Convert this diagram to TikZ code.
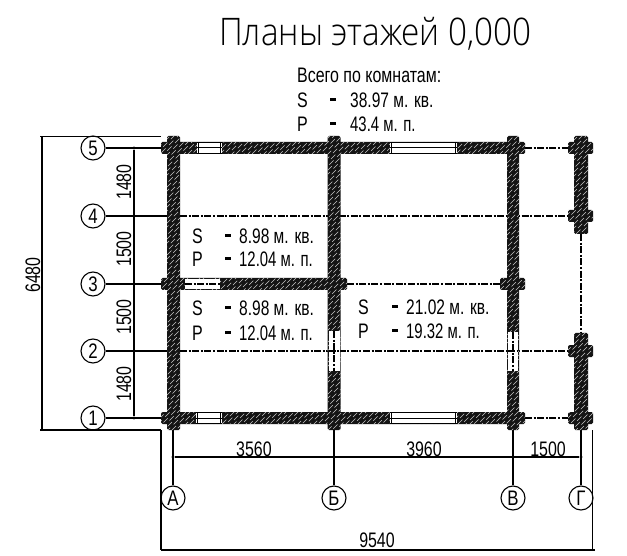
\documentclass[tikz,border=0pt]{standalone}
\usepackage{fontspec}
\setmainfont{Liberation Sans}
\newfontfamily\thinf{Open Sans Light}
\newcommand{\nar}[1]{\scalebox{.76}[1]{#1}}
\newcommand{\narp}[1]{\scalebox{.71}[1]{#1}}
\newcommand{\wallrects}{
  (161,142) rectangle (525,154)
  (161,412) rectangle (525,424)
  (161,278) rectangle (347,290)
  (500,278) rectangle (525,290)
  (167,136) rectangle (180,430)
  (327.5,136) rectangle (340.5,430)
  (507,136) rectangle (519,430)
  (574,136) rectangle (588,234)
  (568,142) rectangle (593,154)
  (568,210) rectangle (593,222)
  (574,333) rectangle (588,430)
  (568,345) rectangle (593,357)
  (568,412) rectangle (593,424)
}
\tikzset{
  dimline/.style={black,line width=1.1pt},
  extline/.style={black,line width=1.3pt},
  axisline/.style={black,line width=1.15pt,dash pattern=on 7pt off 1.6pt on 2pt off 1.6pt},
  bubble/.style={circle,draw=black,line width=1.1pt,minimum size=24pt,inner sep=0pt,fill=white,font=\fontsize{21}{21}\selectfont},
  lbl/.style={inner sep=0pt,anchor=west,font=\fontsize{21}{21}\selectfont},
  dimlbl/.style={inner sep=0pt,font=\fontsize{21}{21}\selectfont},
  dot/.style={circle,fill=black,inner sep=0pt,minimum size=3.4pt},
  winline/.style={black,line width=1pt},
}
\begin{document}
\begin{tikzpicture}[x=1pt,y=-1pt]
\useasboundingbox (0,0) rectangle (627,556);
\fill[white] (0,0) rectangle (627,556);
% grid references
\coordinate (a5) at (161,148); \coordinate (a4) at (167,216); \coordinate (a3) at (161,284);
\coordinate (a2) at (167,351); \coordinate (a1) at (161,418);
\coordinate (bA) at (173,430); \coordinate (bB) at (334,430); \coordinate (bV) at (513,430); \coordinate (bG) at (581,430);
% axis bubbles
\node[bubble] (r5) at (93,148) {\scalebox{.8}[1]{5}};
\node[bubble] (r4) at (93,216) {\scalebox{.8}[1]{4}};
\node[bubble] (r3) at (93,284) {\scalebox{.8}[1]{3}};
\node[bubble] (r2) at (93,351) {\scalebox{.8}[1]{2}};
\node[bubble] (r1) at (93,418) {\scalebox{.8}[1]{1}};
\node[bubble] (cA) at (173,498) {\scalebox{.8}[1]{А}};
\node[bubble] (cB) at (334,498) {\scalebox{.8}[1]{Б}};
\node[bubble] (cV) at (513,498) {\scalebox{.8}[1]{В}};
\node[bubble] (cG) at (581,498) {\scalebox{.8}[1]{Г}};
\foreach \n in {5,4,3,2,1} \draw[dimline] (r\n) -- (a\n);
\draw[dimline] (bA) -- (cA); \draw[dimline] (bB) -- (cB);
\draw[dimline] (bV) -- (cV); \draw[dimline] (bG) -- (cG);
% centre lines
\coordinate (ax4a) at (180,216); \coordinate (ax4b) at (568,216);
\coordinate (ax2a) at (180,351); \coordinate (ax2b) at (568,351);
\coordinate (ax3a) at (347,284); \coordinate (ax3b) at (500,284);
\coordinate (ax5a) at (525,148); \coordinate (ax5b) at (568,148);
\coordinate (ax1a) at (525,418); \coordinate (ax1b) at (568,418);
\coordinate (axGa) at (581,234); \coordinate (axGb) at (581,333);
\foreach \u/\v in {ax4a/ax4b,ax2a/ax2b,ax3a/ax3b,ax5a/ax5b,ax1a/ax1b,axGa/axGb}
  \draw[axisline] (\u) -- (\v);
% walls
\fill[black!92,rounded corners=1.5pt] \wallrects;
\begin{scope}
  \clip \wallrects;
  \foreach \d in {150,154,...,1100}
    \draw[gray!45,line width=.6pt,dash pattern=on 6pt off 5pt,dash phase=\d*.7] (\d,120) -- (\d-330,450);
\end{scope}
% horizontal plain windows
\foreach \xa/\xb/\yc in {197/222/148,196/222/418,390/457/148,390/457/418}{
  \fill[white] (\xa,\yc-5) rectangle (\xb,\yc+5);
  \draw[winline] (\xa,\yc-5.3) -- (\xb,\yc-5.3);
  \draw[winline] (\xa,\yc) -- (\xb,\yc);
  \draw[winline] (\xa,\yc+5.3) -- (\xb,\yc+5.3);
  \draw[winline] (\xa+1.5,\yc-5.5) -- (\xa+1.5,\yc+5.5);
  \draw[winline] (\xb-1.5,\yc-5.5) -- (\xb-1.5,\yc+5.5);
}
% windows on centre lines
\fill[white] (185,279) rectangle (220,289);
\draw[axisline] (185,284) -- (220,284);
\fill[white] (328.5,331) rectangle (339.5,371);
\draw[axisline] (334,331) -- (334,371);
\fill[white] (508,332) rectangle (518,371);
\draw[axisline] (513,332) -- (513,371);
\draw[axisline] (328.5,351) -- (339.5,351);
\draw[axisline] (508,351) -- (518,351);
% dimension lines
\coordinate (t5) at (134,148); \coordinate (t4) at (134,216); \coordinate (t3) at (134,284);
\coordinate (t2) at (134,351); \coordinate (t1) at (134,418);
\node[dot] (d5) at (t5) {}; \node[dot] (d4) at (t4) {}; \node[dot] (d3) at (t3) {};
\node[dot] (d2) at (t2) {}; \node[dot] (d1) at (t1) {};
\draw[dimline] (d5) -- (d1);
\node[dot] (hA) at (173,457) {}; \node[dot] (hB) at (334,457) {};
\node[dot] (hV) at (513,457) {}; \node[dot] (hG) at (581,457) {};
\draw[dimline] (hA) -- (hG);
% overall dimensions
\coordinate (o1) at (40,136.5); \coordinate (o2) at (161,136.5);
\coordinate (o3) at (40,430); \coordinate (o4) at (161,430);
\coordinate (o5) at (42,136.5); \coordinate (o6) at (42,430);
\coordinate (o7) at (161,550); \coordinate (o8) at (595,550); \coordinate (o9) at (592.5,430); \coordinate (o10) at (592.5,550);
\draw[extline] (o1) -- (o2);
\draw[extline] (o3) -- (o4);
\draw[extline] (o5) -- (o6);
\draw[extline] (o4) -- (o7);
\draw[extline] (o7) -- (o8);
\draw[extline] (o9) -- (o10);
% dimension texts
\node[dimlbl,rotate=90] (v1) at (124,182) {\nar{1480}};
\node[dimlbl,rotate=90] (v2) at (124,249) {\nar{1500}};
\node[dimlbl,rotate=90] (v3) at (124,317) {\nar{1500}};
\node[dimlbl,rotate=90] (v4) at (124,384) {\nar{1480}};
\node[dimlbl,rotate=90] (v5) at (33,275) {\nar{6480}};
\node[dimlbl] (h1) at (254,449) {\nar{3560}};
\node[dimlbl] (h2) at (424,449) {\nar{3960}};
\node[dimlbl] (h3) at (548,449) {\nar{1500}};
\node[dimlbl] (h4) at (377,540) {\nar{9540}};
% title
\node[inner sep=0pt,anchor=west] (title) at (219,34) {\scalebox{.875}[1]{\thinf\fontsize{38}{38}\selectfont Планы этажей 0,000}};
\node[lbl] (tot) at (297,75) {\nar{Всего по комнатам:}};
% areas
\foreach \nm/\x/\y/\dx/\tx/\s in {
  a/297/100/36/350/38.97,
  b/192/236/36/239/8.98,
  c/192/308/36/239/8.98,
  d/358/307/37/406/21.02}{
  \node[lbl] (\nm S) at (\x,\y) {\nar{S}};
  \node[lbl] (\nm s) at (\tx,\y) {\scalebox{.74}[1]{\s{} м. кв.}};
  \fill[black] (\x+\dx-3,\y-1.5) rectangle (\x+\dx+3,\y+1.5);
}
\foreach \nm/\x/\y/\dx/\tx/\p in {
  a/297/124/36/350/43.4,
  b/192/259/36/239/12.04,
  c/192/333/36/239/12.04,
  d/358/331/37/406/19.32}{
  \node[lbl] (\nm P) at (\x,\y) {\nar{P}};
  \node[lbl] (\nm p) at (\tx,\y) {\narp{\p{} м. п.}};
  \fill[black] (\x+\dx-3,\y-1.5) rectangle (\x+\dx+3,\y+1.5);
}
\end{tikzpicture}
\end{document}
